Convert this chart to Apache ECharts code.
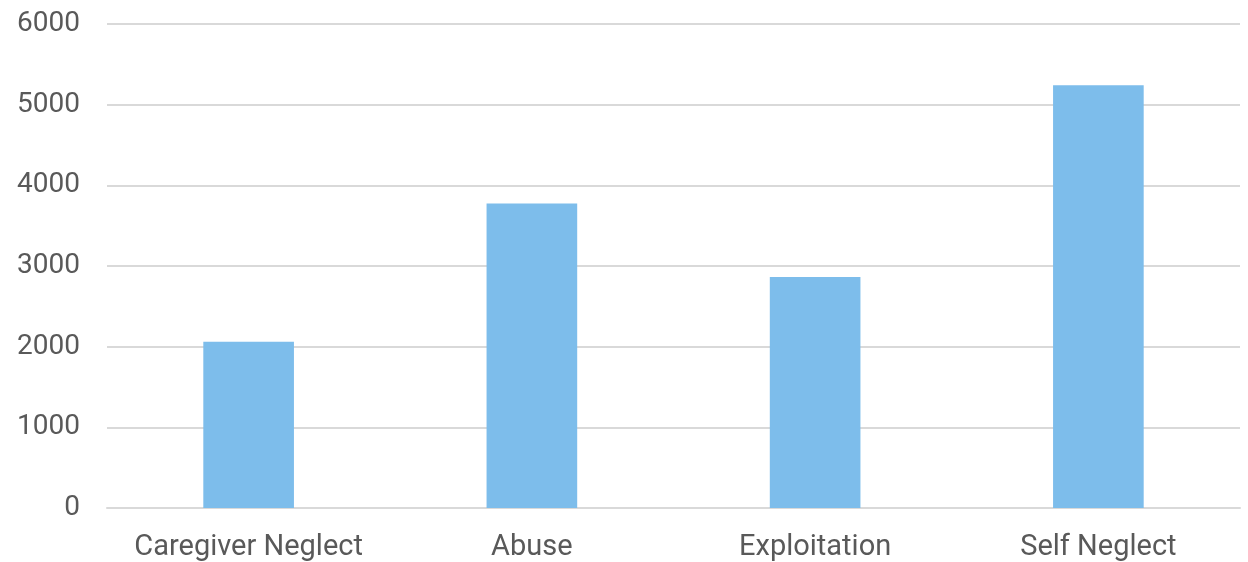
<!DOCTYPE html>
<html>
<head>
<meta charset="utf-8">
<script src="https://cdn.jsdelivr.net/npm/echarts@6/dist/echarts.min.js"></script>
<style>
  html, body { margin: 0; padding: 0; background: #fff; }
  #show { width: 1248px; height: 562px; }
</style>
</head>
<body>
<div id="show"></div>
<script>
// data
var categories = ['Caregiver Neglect', 'Abuse', 'Exploitation', 'Self Neglect'];
var values = [2060, 3775, 2864, 5240];

var myChart = echarts.init(document.getElementById('show'));
myChart.setOption({
  animation: false,
  grid: { left: 107, right: 8, top: 24, bottom: 53 },
  xAxis: {
    type: 'category',
    data: categories,
    axisTick: { show: false },
    axisLine: { lineStyle: { color: '#d9d9d9', width: 2 } },
    axisLabel: {
      color: '#595959',
      fontFamily: 'Roboto',
      fontSize: 29,
      margin: 25,
      interval: 0
    }
  },
  yAxis: {
    type: 'value',
    min: 0,
    max: 6000,
    interval: 1000,
    axisLine: { show: false },
    axisTick: { show: false },
    axisLabel: {
      color: '#595959',
      fontFamily: 'Roboto',
      fontSize: 28,
      margin: 27,
      padding: [4, 0, 0, 0],
      formatter: function (v) { return String(v); }
    },
    splitLine: { lineStyle: { color: '#d9d9d9', width: 2 } }
  },
  series: [{
    type: 'bar',
    data: values,
    barWidth: '32%',
    itemStyle: { color: '#7dbdeb' }
  }]
});
</script>
</body>
</html>
